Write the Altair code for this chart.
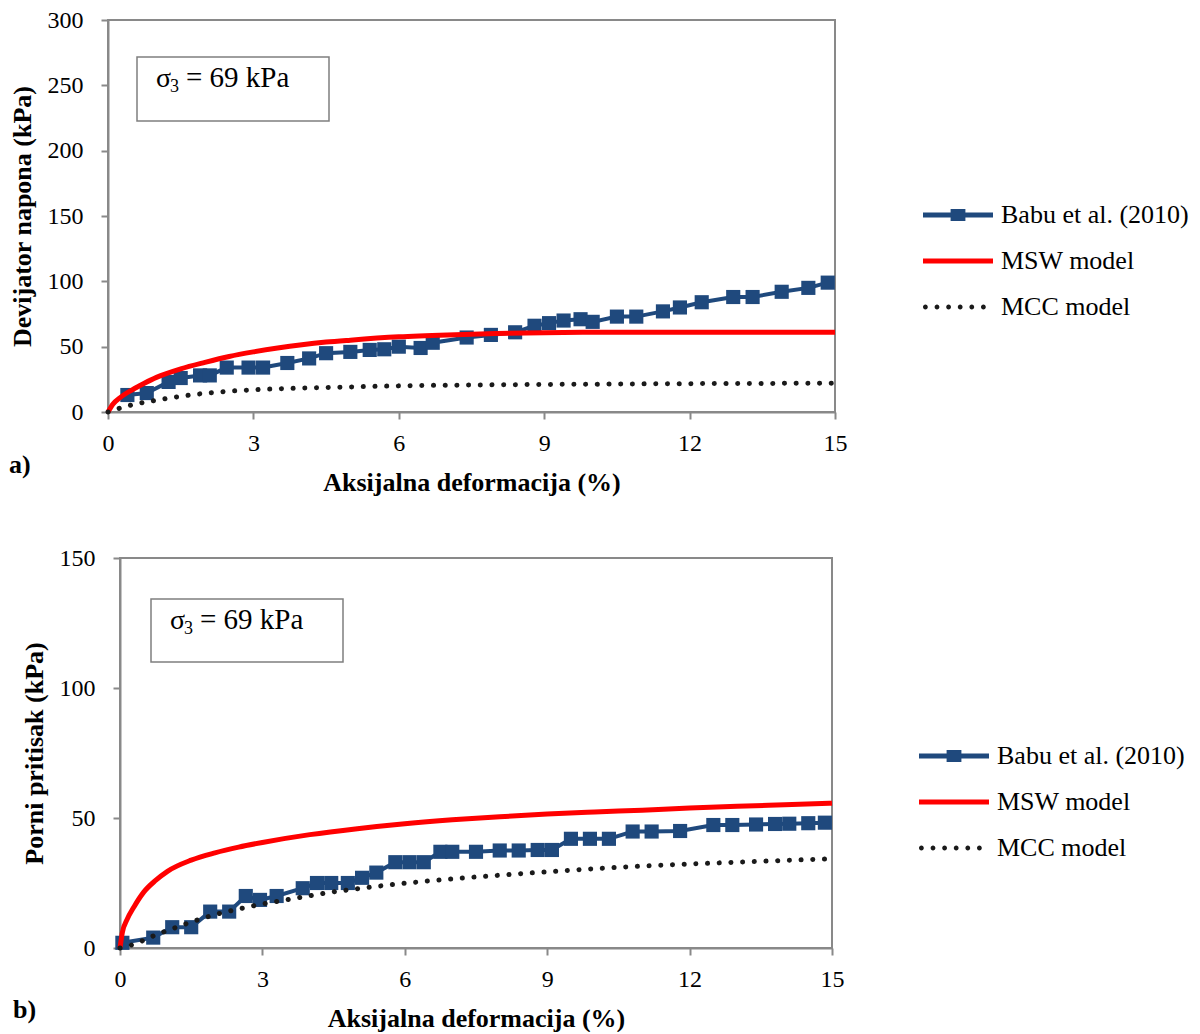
import altair as alt
import pandas as pd

# ---------------- data ----------------
series_names = ["Babu et al. (2010)", "MSW model", "MCC model"]
series_colors = ["#1F497D", "#FF0000", "#1A1A1A"]

x_ticks = [0, 3, 6, 9, 12, 15]
top_y_ticks = [0, 50, 100, 150, 200, 250, 300]
bot_y_ticks = [0, 50, 100, 150]

# panel a) deviator stress
a_babu_x = [0.4, 0.8, 1.25, 1.5, 1.9, 2.1, 2.45, 2.9, 3.2, 3.7, 4.15, 4.5, 5.0, 5.4, 5.7,
            6.0, 6.45, 6.7, 7.4, 7.9, 8.4, 8.8, 9.1, 9.4, 9.75, 10.0, 10.5, 10.9, 11.45,
            11.8, 12.25, 12.9, 13.3, 13.9, 14.45, 14.85]
a_babu_y = [13, 14.5, 23, 26, 28, 28, 34, 34, 34, 37.5, 41, 45, 46, 47.5, 48,
            50, 49, 53, 57, 59, 61, 66, 68, 70, 71, 69, 73, 73, 77,
            80, 84, 88, 88, 92, 95, 99]
a_msw_x = [0, 0.1, 0.25, 0.5, 0.75, 1, 1.5, 2, 2.5, 3, 3.5, 4, 4.5, 5, 6, 7, 8, 9, 10,
           11, 12, 13, 14, 15]
a_msw_y = [0, 6, 11, 17, 22, 26.5, 33, 38, 42.5, 46, 49, 51.5, 53.5, 55, 57.5, 59, 60,
           60.7, 61, 61, 61, 61, 61, 61]
a_mcc_x = [0, 0.25, 0.5, 0.75, 1, 1.5, 2, 2.5, 3, 4, 5, 6, 8, 10, 12, 15]
a_mcc_y = [0, 3, 5.5, 7.4, 9, 12, 14.3, 15.9, 17, 18.3, 19.2, 20, 20.8, 21.3, 21.7, 22]

# panel b) pore pressure
b_babu_x = [0.05, 0.7, 1.1, 1.5, 1.9, 2.3, 2.65, 2.95, 3.3, 3.85, 4.15, 4.45, 4.8, 5.1,
            5.4, 5.8, 6.1, 6.4, 6.75, 7.0, 7.5, 8.0, 8.4, 8.8, 9.1, 9.5, 9.9, 10.3, 10.8,
            11.2, 11.8, 12.5, 12.9, 13.4, 13.8, 14.1, 14.5, 14.85]
b_babu_y = [2, 4, 8, 8, 14, 14, 20, 18.5, 20, 23, 25, 25, 25, 27,
            29, 33, 33, 33, 37, 37, 37, 37.5, 37.5, 37.7, 37.7, 42, 42, 42, 44.8,
            44.8, 45, 47.3, 47.3, 47.5, 47.7, 47.8, 48, 48.2]
b_msw_x = [0, 0.05, 0.15, 0.3, 0.5, 0.75, 1, 1.5, 2, 2.5, 3, 4, 5, 6, 7, 8, 9, 10, 11,
           12, 13, 14, 15]
b_msw_y = [0, 6, 11, 16, 21.5, 26, 29.5, 33.8, 36.6, 38.8, 40.6, 43.6, 45.9, 47.8, 49.3,
           50.5, 51.5, 52.3, 53, 53.8, 54.5, 55.1, 55.7]
b_mcc_x = [0, 0.25, 0.5, 0.75, 1, 1.5, 2, 2.5, 3, 3.5, 4, 4.5, 5, 5.5, 6, 6.5, 7, 8, 9,
           10, 11, 12, 13, 14, 15]
b_mcc_y = [0, 1.2, 3, 5, 6.7, 10, 12.8, 15, 16.9, 18.5, 20.1, 21.6, 22.8, 23.9, 24.9,
           25.8, 26.6, 28, 29.3, 30.5, 31.5, 32.3, 33, 33.7, 34.3]

x_title = "Aksijalna deformacija (%)"
a_y_title = "Devijator napona (kPa)"
b_y_title = "Porni  pritisak (kPa)"
box_text = "= 69 kPa"

# ---------------- style ----------------
FONT = "Liberation Serif"
GRAY = "#898989"

# legend symbol paths (custom SVG paths, 40px unit -> scaled to 70px long)
K = 1.75
babu_path = (f"M{-K},{-0.12}H{K}V{0.12}H{-K}Z "
             f"M{-0.37},{-0.3}H{0.37}V{0.3}H{-0.37}Z")
msw_path = f"M{-K},{-0.12}H{K}V{0.12}H{-K}Z"
r = 0.12
mcc_path = " ".join(
    f"M{c - r:.3f},0a{r},{r} 0 1,0 {2 * r:.3f},0a{r},{r} 0 1,0 {-2 * r:.3f},0"
    for c in [-1.63, -1.05, -0.47, 0.11, 0.69, 1.27]
)
legend_shapes = [babu_path, msw_path, mcc_path]


def panel(bx, by, mx, my, cx, cy, y_max, y_ticks, y_title, w, h,
          leg_x, leg_y, tag, tag_x, tag_y, box, txt):
    xs = alt.Scale(domain=[0, 15], nice=False)
    ys = alt.Scale(domain=[0, y_max], nice=False)
    xax = alt.Axis(values=x_ticks, title=x_title, grid=False, tickSize=7, tickWidth=2,
                   tickColor=GRAY, domainColor=GRAY, domainWidth=2, labelFont=FONT,
                   labelFontSize=24, labelColor="black", labelPadding=12,
                   labelOverlap=False, labelFlush=False, titleFont=FONT,
                   titleFontSize=26, titleFontWeight="bold", titleColor="black",
                   titlePadding=14)
    yax = alt.Axis(values=y_ticks, title=y_title, grid=False, tickSize=7, tickWidth=2,
                   tickColor=GRAY, domainColor=GRAY, domainWidth=2, labelFont=FONT,
                   labelFontSize=24, labelColor="black", labelPadding=18,
                   labelOverlap=False, titleFont=FONT, titleFontSize=26,
                   titleFontWeight="bold", titleColor="black", titlePadding=12)

    babu = pd.DataFrame({"x": bx, "y": by})
    msw = pd.DataFrame({"x": mx, "y": my})
    mcc = pd.DataFrame({"x": cx, "y": cy})

    X = alt.X("x:Q", scale=xs, axis=xax)
    Y = alt.Y("y:Q", scale=ys, axis=yax)

    l_babu = alt.Chart(babu).mark_line(color=series_colors[0], strokeWidth=4).encode(x=X, y=Y)
    p_babu = alt.Chart(babu).mark_point(shape="square", filled=True, size=200, opacity=1,
                                        color=series_colors[0]).encode(x=X, y=Y)
    l_msw = alt.Chart(msw).mark_line(color=series_colors[1], strokeWidth=5,
                                     interpolate="monotone").encode(x=X, y=Y)
    l_mcc = alt.Chart(mcc).mark_line(color=series_colors[2], strokeWidth=5,
                                     strokeDash=[0.1, 11.6], strokeCap="round",
                                     interpolate="monotone").encode(x=X, y=Y)

    leg_df = pd.DataFrame({"series": series_names, "x": [-1, -1, -1], "y": [-1, -1, -1]})
    legend = alt.Legend(title=None, orient="none", legendX=leg_x, legendY=leg_y,
                        symbolSize=1600, symbolStrokeWidth=0, labelFont=FONT,
                        labelFontSize=26, labelColor="black", labelOffset=23,
                        labelLimit=500, rowPadding=13, symbolOpacity=1)
    leg = alt.Chart(leg_df).transform_filter("datum.x > 0").mark_point(
        filled=True, opacity=1).encode(
        x=X, y=Y,
        color=alt.Color("series:N", scale=alt.Scale(domain=series_names, range=series_colors),
                        legend=legend, sort=series_names),
        shape=alt.Shape("series:N", scale=alt.Scale(domain=series_names, range=legend_shapes),
                        legend=legend, sort=series_names),
    )

    tdf = pd.DataFrame({"t": [tag]})
    tag_mark = alt.Chart(tdf).mark_text(font=FONT, fontSize=26, fontWeight="bold",
                                        align="left", baseline="middle", color="black").encode(
        text="t:N", x=alt.value(tag_x), y=alt.value(tag_y))

    bdf = pd.DataFrame({"t": [""]})
    rect = alt.Chart(bdf).mark_rect(fill="white", stroke="#7F7F7F", strokeWidth=1.5).encode(
        x=alt.value(box[0]), x2=alt.value(box[1]), y=alt.value(box[2]), y2=alt.value(box[3]))
    sx, sy = txt
    sig = alt.Chart(pd.DataFrame({"t": ["σ"]})).mark_text(
        font=FONT, fontSize=28, align="left", baseline="alphabetic", color="black").encode(
        text="t:N", x=alt.value(sx), y=alt.value(sy))
    sub = alt.Chart(pd.DataFrame({"t": ["3"]})).mark_text(
        font=FONT, fontSize=18, align="left", baseline="alphabetic", color="black").encode(
        text="t:N", x=alt.value(sx + 14), y=alt.value(sy + 5))
    rest = alt.Chart(pd.DataFrame({"t": [box_text]})).mark_text(
        font=FONT, fontSize=29, align="left", baseline="alphabetic", color="black").encode(
        text="t:N", x=alt.value(sx + 30), y=alt.value(sy))

    return alt.layer(l_babu, p_babu, l_msw, l_mcc, leg, tag_mark, rect, sig, sub, rest
                     ).properties(width=w, height=h)


top = panel(a_babu_x, a_babu_y, a_msw_x, a_msw_y, a_mcc_x, a_mcc_y, 300, top_y_ticks,
            a_y_title, 727, 392, 830, 175, "a)", -99, 445, (29, 221, 37, 101), (48, 67))
# the bottom legend is placed by the row that holds the spacer (origin = top panel's left)
bottom = panel(b_babu_x, b_babu_y, b_msw_x, b_msw_y, b_mcc_x, b_mcc_y, 150, bot_y_ticks,
               b_y_title, 712, 390, 826, 178, "b)", -107, 452, (31, 223, 41, 104), (50, 71))

spacer = alt.Chart(pd.DataFrame({"t": [""]})).mark_text().encode(text="t:N").properties(
    width=1, height=1, view=alt.ViewBackground(stroke="transparent"))

bottom_row = alt.hconcat(spacer, bottom, spacing=11, bounds="flush")

chart = alt.vconcat(top, bottom_row, spacing=146, bounds="flush").properties(
    padding={"left": 0, "top": -1, "right": 0, "bottom": 0}
).configure_view(stroke=GRAY, strokeWidth=2).resolve_scale(color="independent",
                                                           shape="independent")

chart.save("out.html", embed_options={"renderer": "svg", "actions": False})
